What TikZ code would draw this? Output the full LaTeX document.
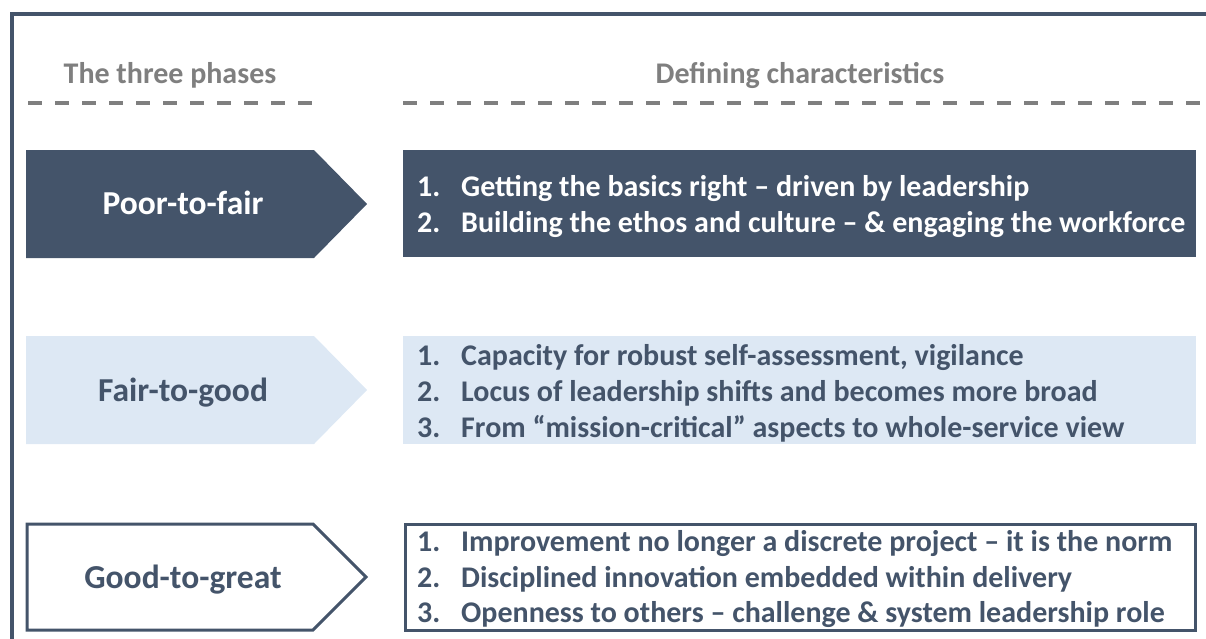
\documentclass[tikz,border=0pt]{standalone}
\usepackage{fontspec}
\setmainfont{Carlito}
\definecolor{slate}{HTML}{44546A}
\definecolor{pale}{HTML}{DDE8F4}
\definecolor{headgray}{HTML}{7F7F7F}
\tikzset{
  every node/.style={font=\fontsize{30}{36}\selectfont\bfseries, inner sep=0pt},
  frameline/.style={draw=slate, line width=4pt},
  rule/.style={draw=headgray, line width=4pt, dash pattern=on 14pt off 13pt},
  head/.style={text=headgray, anchor=base},
  phase/.style={anchor=base, font=\fontsize{33.5}{40}\selectfont\bfseries},
  item/.style={anchor=base west},
}
\begin{document}
\begin{tikzpicture}[x=1pt,y=-1pt]
\useasboundingbox (0,0) rectangle (1206,638);
% frame
\draw[frameline] (12,640) -- (12,14) -- (1208,14);
% headers
\node[head] (h1) at (170,83) {The three phases};
\node[head] (h2) at (800,83) {Defining characteristics};
\draw[rule] (28,103) -- (318,103);
\draw[rule] (403,103) -- (1206,103);
% row 1
\fill[slate] (26,150) -- (314,150) -- (367,204) -- (314,258) -- (26,258) -- cycle;
\node[phase,text=white] (p1) at (183,214.5) {Poor-to-fair};
\fill[slate] (403,150) rectangle (1196,257);
\node[item,text=white] (a1n) at (417,196) {1.};
\node[item,text=white] (a1) at (461,196) {Getting the basics right -- driven by leadership};
\node[item,text=white] (a2n) at (417,232) {2.};
\node[item,text=white] (a2) at (461,232) {Building the ethos and culture -- \& engaging the workforce};
% row 2
\fill[pale] (26,336) -- (314,336) -- (367,390) -- (314,444) -- (26,444) -- cycle;
\node[phase,text=slate] (p2) at (183,401) {Fair-to-good};
\fill[pale] (403,336) rectangle (1196,444);
\node[item,text=slate] (b1n) at (417,365) {1.};
\node[item,text=slate] (b1) at (461,365) {Capacity for robust self-assessment, vigilance};
\node[item,text=slate] (b2n) at (417,401) {2.};
\node[item,text=slate] (b2) at (461,401) {Locus of leadership shifts and becomes more broad};
\node[item,text=slate] (b3n) at (417,437) {3.};
\node[item,text=slate] (b3) at (461,437) {From “mission-critical” aspects to whole-service view};
% row 3
\draw[draw=slate, line width=3pt, fill=white] (27,524) -- (313,524) -- (366,577) -- (313,630) -- (27,630) -- cycle;
\node[phase,text=slate] (p3) at (183,588) {Good-to-great};
\draw[draw=slate, line width=3pt] (405,524) rectangle (1195,630);
\node[item,text=slate] (c1n) at (417,551) {1.};
\node[item,text=slate] (c1) at (461,551) {Improvement no longer a discrete project -- it is the norm};
\node[item,text=slate] (c2n) at (417,587) {2.};
\node[item,text=slate] (c2) at (461,587) {Disciplined innovation embedded within delivery};
\node[item,text=slate] (c3n) at (417,622) {3.};
\node[item,text=slate] (c3) at (461,622) {Openness to others -- challenge \& system leadership role};
\end{tikzpicture}
\end{document}
